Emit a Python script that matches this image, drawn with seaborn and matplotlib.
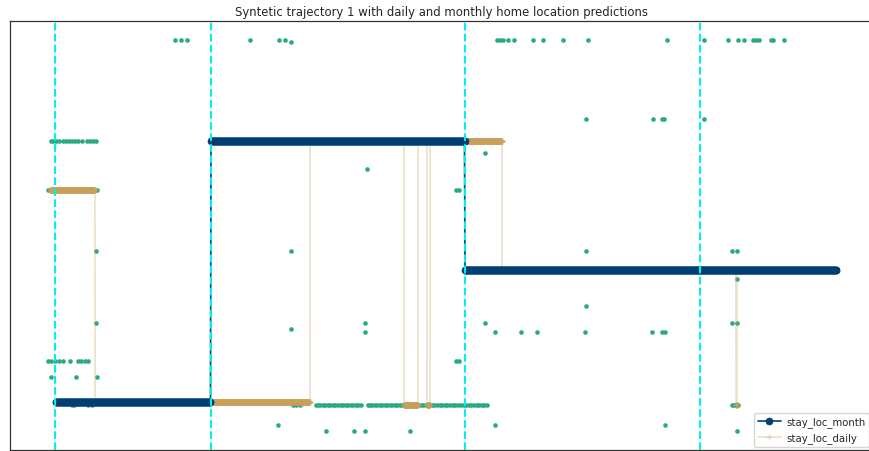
import numpy as np
import pandas as pd
import matplotlib
matplotlib.use("Agg")
import matplotlib.pyplot as plt
import seaborn as sns

# --- monthly home-location stays (start day, end day, location level) ---
month_start = [9.2, 40.2, 91.0]
month_end = [40.2, 91.0, 165.4]
month_loc = [11.2, 72.0, 42.0]

# --- daily home-location stays ---
daily_start = [8.0, 17.0, 60.0, 78.8, 81.6, 83.4, 84.0, 98.4, 145.2, 145.4]
daily_end = [17.0, 60.0, 78.8, 81.6, 83.4, 84.0, 98.4, 145.2, 145.4, 165.0]
daily_loc = [60.5, 11.2, 72.0, 10.6, 72.0, 10.6, 72.0, 42.0, 10.6, 42.0]

# --- month boundaries ---
month_bounds = [9.0, 40.2, 91.0, 138.0]

# --- raw observations, grouped by location level ---
obs_956 = [33.0, 34.2, 35.4, 48.0, 53.8, 55.0, 97.4, 98.0, 98.6, 99.6, 100.8,
           104.6, 106.6, 110.6, 115.6, 131.4, 138.8, 143.6, 145.6, 146.8,
           148.6, 149.2, 149.8, 152.2, 152.6, 154.8]
obs_950 = [56.2]
obs_772 = [115.2, 128.6, 130.4, 130.8, 138.8]
obs_720 = [8.2, 8.6, 9.2, 9.8, 10.6, 11.2, 11.8, 12.4, 13.0, 13.6, 14.4,
           15.4, 16.0, 16.6, 17.2]
obs_692 = [95.0]
obs_655 = [71.4]
obs_605 = [7.6, 17.4, 89.2, 89.8]
obs_464 = [17.2, 56.2, 115.2, 144.4, 145.4]
obs_399 = [145.4]
obs_336 = [115.2]
obs_296 = [17.2, 71.0, 95.0, 144.4, 145.4]
obs_282 = [56.2]
obs_274 = [71.0, 97.0, 102.2, 105.4, 115.0, 128.4, 130.4, 131.0]
obs_207 = [7.6, 8.2, 9.0, 9.8, 10.6, 12.0, 13.6, 14.2, 15.0, 15.6, 89.2, 89.8]
obs_170 = [8.2, 13.2, 17.4]
obs_106 = [12.4, 12.8, 15.6, 16.4, 56.6, 57.2, 58.0,
           61.2, 61.6, 62.0, 62.6, 63.0, 63.6, 64.0, 64.6, 65.0, 65.6, 66.2,
           66.6, 67.2, 67.6, 68.2, 68.6, 69.2, 69.6, 70.2,
           71.6, 72.0, 72.4, 73.0, 73.4, 74.0, 74.4, 75.0, 75.4, 76.0, 76.4,
           77.0, 77.4, 78.0, 78.4, 79.0, 79.6, 80.0, 80.6, 81.0, 81.6, 82.2,
           82.6, 83.2, 83.8, 84.4, 84.8, 85.4, 86.0, 86.4, 87.0, 87.4, 88.0,
           88.6, 89.0, 89.6, 90.2, 90.8, 91.2, 91.8, 92.2, 92.8, 93.4, 93.8,
           94.4, 94.8, 95.4, 144.4, 144.8, 145.2, 145.6]
obs_058 = [53.6, 97.0, 131.0]
obs_044 = [63.2, 68.8, 71.0, 80.0, 145.4]

obs_groups = [
    (95.6, obs_956), (95.0, obs_950), (77.2, obs_772), (72.0, obs_720),
    (69.2, obs_692), (65.5, obs_655), (60.5, obs_605), (46.4, obs_464),
    (39.9, obs_399), (33.6, obs_336), (29.6, obs_296), (28.2, obs_282),
    (27.4, obs_274), (20.7, obs_207), (17.0, obs_170), (10.6, obs_106),
    (5.8, obs_058), (4.4, obs_044),
]


def expand(starts, ends, locs, step):
    """Turn stay intervals into a time-sampled location series."""
    t, y = [], []
    for s, e, l in zip(starts, ends, locs):
        ts = np.arange(s, e, step)
        if len(ts) == 0:
            ts = np.array([s])
        t.extend(ts)
        y.extend([l] * len(ts))
    return pd.DataFrame({"day": t, "loc": y})


month_df = expand(month_start, month_end, month_loc, step=0.1)
daily_df = expand(daily_start, daily_end, daily_loc, step=0.02)
obs_df = pd.DataFrame(
    [(d, lvl) for lvl, days in obs_groups for d in days], columns=["day", "loc"]
)

sns.set_style("white")
fig = plt.figure(figsize=(8.69, 4.52), dpi=100)
ax = fig.add_axes([10 / 869, 1 / 452, 862 / 869, 429 / 452])

sns.scatterplot(data=obs_df, x="day", y="loc", ax=ax, color="#2aa985",
                s=11, linewidth=0, zorder=1, legend=False)

sns.lineplot(data=daily_df, x="day", y="loc", ax=ax, estimator=None, sort=False,
             color="#c8a058", alpha=0.3, lw=1.3, marker="+", ms=4.5,
             mec="#c8a058", mew=1.0, zorder=2, label="stay_loc_daily")

sns.lineplot(data=month_df, x="day", y="loc", ax=ax, estimator=None, sort=False,
             color="#013f73", lw=1.2, marker="o", ms=5,
             mec="#013f73", mew=0.5, zorder=3, label="stay_loc_month")

for b in month_bounds:
    ax.axvline(b, color="#00f0f0", ls="--", lw=1.5, zorder=4)

ax.set_xlim(0, 172.4)
ax.set_ylim(0, 100)
ax.set_xticks([])
ax.set_yticks([])
ax.set_xlabel("")
ax.set_ylabel("")
for sp in ax.spines.values():
    sp.set_color("#333333")
    sp.set_linewidth(0.9)

handles, labels = ax.get_legend_handles_labels()
order = [labels.index("stay_loc_month"), labels.index("stay_loc_daily")]
ax.legend([handles[i] for i in order], [labels[i] for i in order],
          loc="lower right", fontsize=7.3, handlelength=2.3, handletextpad=0.5,
          borderpad=0.35, frameon=True, borderaxespad=0.3)

ax.set_title("Syntetic trajectory 1 with daily and monthly home location predictions",
             fontsize=8.35, pad=4)

fig.savefig("out.png", dpi=100)
